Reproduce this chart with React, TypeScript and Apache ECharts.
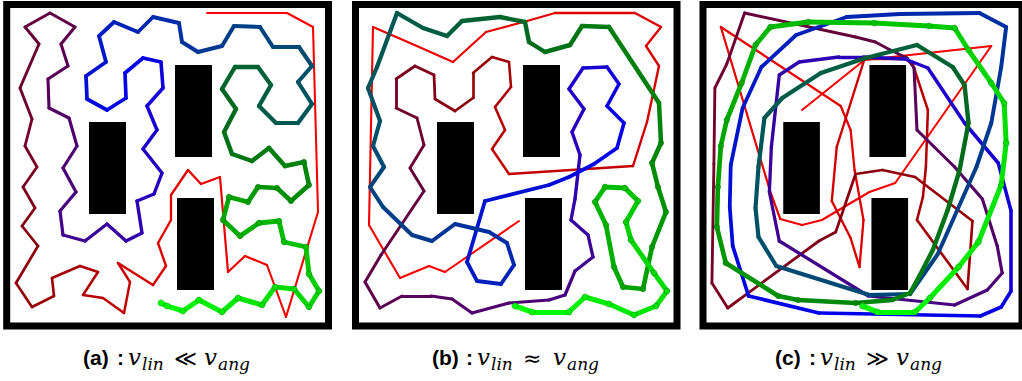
import React, { useEffect, useRef } from "react";
import * as echarts from "echarts";

type Pt = [number, number];

// Trajectories (page pixel coordinates), in time order
const pathA: Pt[] = [[207,13],[287,13],[313,27],[318,212],[286,317],[267,265],[245,256],[228,272],[220,177],[201,184],[188,170],[171,195],[171,220],[158,243],[166,266],[153,285],[118,263],[130,282],[124,313],[103,298],[83,295],[98,272],[80,266],[52,278],[54,296],[32,307],[16,283],[38,246],[22,226],[35,208],[23,187],[37,167],[25,146],[32,119],[20,88],[39,44],[25,27],[50,13],[75,27],[61,44],[68,66],[48,79],[49,108],[69,118],[77,146],[63,168],[76,192],[60,211],[63,235],[85,241],[107,224],[126,241],[142,233],[137,201],[154,194],[162,173],[143,149],[157,130],[147,106],[163,88],[161,62],[143,58],[125,73],[126,98],[107,110],[87,99],[86,76],[106,62],[99,36],[114,22],[138,32],[153,17],[179,23],[182,42],[198,52],[222,46],[234,26],[260,27],[273,47],[299,47],[312,66],[298,82],[312,104],[298,123],[276,123],[259,106],[271,85],[258,67],[235,67],[222,89],[236,109],[224,132],[232,154],[252,161],[269,148],[285,166],[304,162],[309,185],[291,201],[277,188],[258,187],[248,202],[229,197],[223,220],[240,236],[259,223],[279,221],[284,242],[306,247],[309,274],[319,291],[309,307],[294,289],[275,287],[262,305],[238,298],[222,312],[199,300],[183,311],[167,306],[161,303]];

const pathB: Pt[] = [[519,221],[445,272],[429,266],[400,278],[369,225],[373,27],[410,43],[453,62],[486,32],[527,21],[555,13],[635,13],[661,27],[646,46],[659,66],[647,122],[633,166],[509,174],[492,149],[505,130],[495,107],[511,87],[509,62],[492,57],[473,73],[473,98],[455,111],[435,99],[434,75],[415,66],[396,79],[396,108],[417,118],[424,145],[410,168],[424,191],[381,255],[365,282],[380,308],[402,296],[431,296],[452,299],[472,313],[509,303],[549,300],[565,295],[575,271],[593,257],[588,235],[571,220],[575,199],[580,155],[572,132],[584,109],[569,89],[583,68],[607,67],[619,84],[607,106],[624,123],[617,148],[594,164],[569,177],[549,185],[485,201],[467,262],[477,281],[501,284],[514,265],[507,243],[489,232],[455,224],[432,241],[412,235],[383,207],[370,187],[384,167],[373,146],[380,121],[368,88],[377,67],[397,13],[423,28],[447,36],[462,21],[500,17],[525,22],[529,42],[545,52],[570,45],[582,26],[609,27],[659,103],[661,143],[652,163],[658,187],[666,212],[652,247],[643,289],[623,287],[614,267],[606,225],[595,202],[605,187],[625,188],[638,201],[626,222],[631,240],[654,273],[667,291],[656,306],[634,315],[609,304],[585,297],[569,312],[532,312],[515,306]];

const pathC: Pt[] = [[803,110],[866,60],[994,46],[897,183],[871,192],[823,220],[803,225],[781,219],[771,192],[721,27],[842,106],[852,130],[856,170],[865,220],[861,267],[852,238],[833,201],[838,147],[866,59],[908,59],[915,65],[930,110],[928,167],[925,197],[919,220],[970,289],[975,221],[917,177],[884,170],[857,174],[837,232],[820,241],[728,308],[712,283],[714,164],[715,88],[727,64],[745,13],[857,37],[877,42],[892,50],[909,58],[916,68],[919,130],[957,167],[985,199],[1000,246],[1005,273],[990,290],[957,305],[870,296],[780,241],[770,192],[772,147],[780,75],[800,62],[840,57],[865,57],[907,59],[930,68],[967,123],[1001,163],[1014,211],[1014,291],[1004,307],[983,316],[820,313],[749,296],[733,246],[730,207],[731,165],[743,108],[762,67],[797,35],[848,17],[902,14],[982,13],[1009,27],[1004,67],[994,123],[979,167],[940,254],[912,294],[871,295],[777,266],[759,237],[756,208],[759,167],[765,118],[783,98],[822,73],[867,58],[919,45],[955,67],[967,85],[971,123],[962,170],[950,210],[935,250],[922,275],[912,293],[894,300],[857,303],[799,300],[779,296],[726,263],[717,227],[718,187],[721,146],[727,120],[742,83],[756,45],[771,27],[809,22],[876,23],[931,26],[957,28],[971,50],[994,83],[1007,103],[1009,143],[1004,185],[981,242],[961,267],[932,298],[917,312],[879,312],[864,306]];

// Obstacles: [x1, y1, x2, y2]
const obstaclesA: number[][] = [[89,122,126,214],[175,65,212,157],[177,198,214,290]];
const obstaclesB: number[][] = [[437,122,474,214],[523,65,560,157],[525,198,562,290]];
const obstaclesC: number[][] = [[784,122,821,214],[871,65,908,157],[873,198,910,290]];

const captionLabels = ["(a)", "(b)", "(c)"];
const captionRelations = ["\u226A", "\u2248", "\u226B"];

const COLOR_STOPS: [number, number[]][] = [
  [0, [255, 0, 0]],
  [0.12, [215, 0, 0]],
  [0.22, [140, 0, 10]],
  [0.3, [100, 0, 60]],
  [0.38, [75, 0, 120]],
  [0.45, [40, 0, 190]],
  [0.52, [0, 0, 235]],
  [0.6, [0, 45, 165]],
  [0.67, [0, 80, 105]],
  [0.75, [0, 105, 30]],
  [0.83, [0, 150, 0]],
  [0.92, [0, 210, 0]],
  [1, [0, 255, 0]],
];

function colorAt(t: number): string {
  for (let i = 0; i < COLOR_STOPS.length - 1; i++) {
    const [t0, c0] = COLOR_STOPS[i];
    const [t1, c1] = COLOR_STOPS[i + 1];
    if (t <= t1) {
      const u = (t - t0) / (t1 - t0);
      const c = c0.map((v, k) => Math.round(v + (c1[k] - v) * u));
      return `rgb(${c[0]},${c[1]},${c[2]})`;
    }
  }
  return "rgb(0,255,0)";
}

const widthAt = (t: number) => 2.0 + 3.2 * t;

const panels = [
  { path: pathA, obstacles: obstaclesA, grid: { left: 6.7, top: 4.6, width: 321.8, height: 321.4 }, capX: 83 },
  { path: pathB, obstacles: obstaclesB, grid: { left: 355.5, top: 4.6, width: 321.5, height: 321.4 }, capX: 432 },
  { path: pathC, obstacles: obstaclesC, grid: { left: 703, top: 4.6, width: 322, height: 321.4 }, capX: 775 },
];

export default function App() {
  const ref = useRef<HTMLDivElement>(null);
  useEffect(() => {
    if (!ref.current) return;
    const chart = echarts.init(ref.current, undefined, { renderer: "svg" });
    const grids: any[] = [];
    const xAxes: any[] = [];
    const yAxes: any[] = [];
    const series: any[] = [];
    const graphics: any[] = [];
    panels.forEach((p, k) => {
      const g = p.grid;
      grids.push({ ...g, show: true, borderColor: "#000", borderWidth: 7, backgroundColor: "#fff" });
      xAxes.push({ type: "value", gridIndex: k, min: g.left, max: g.left + g.width, show: false });
      yAxes.push({ type: "value", gridIndex: k, min: g.top, max: g.top + g.height, inverse: true, show: false });
      series.push({
        type: "custom",
        xAxisIndex: k,
        yAxisIndex: k,
        silent: true,
        clip: false,
        z: 1,
        data: p.obstacles,
        renderItem: (_params: any, api: any) => {
          const a = api.coord([api.value(0), api.value(1)]);
          const b = api.coord([api.value(2), api.value(3)]);
          return { type: "rect", shape: { x: a[0], y: a[1], width: b[0] - a[0], height: b[1] - a[1] }, style: { fill: "#000" } };
        },
      });
      const n = p.path.length;
      const segs = [];
      for (let i = 0; i < n - 1; i++) {
        const t = (i + 0.5) / (n - 1);
        segs.push({
          coords: [p.path[i], p.path[i + 1]],
          lineStyle: { color: colorAt(t), width: widthAt(t) },
        });
      }
      series.push({
        type: "lines",
        coordinateSystem: "cartesian2d",
        xAxisIndex: k,
        yAxisIndex: k,
        polyline: false,
        silent: true,
        large: false,
        z: 2,
        lineStyle: { cap: "round", join: "round", opacity: 1 },
        data: segs,
      });
      const markers = [];
      for (let i = 0; i < n; i++) {
        const t = i / (n - 1);
        if (t >= 0.8) {
          markers.push({
            value: p.path[i],
            symbolSize: widthAt(t) + 1.0,
            itemStyle: { color: colorAt(t), borderColor: "rgba(0,90,0,0.7)", borderWidth: 0.6 },
          });
        }
      }
      series.push({
        type: "scatter",
        xAxisIndex: k,
        yAxisIndex: k,
        symbol: "circle",
        silent: true,
        z: 3,
        data: markers,
      });
      const bx = p.capX;
      const cy = 357;
      const mathFont = (s: number) => `italic ${s}px "DejaVu Serif"`;
      graphics.push(
        { type: "text", x: bx, y: cy, style: { text: captionLabels[k], font: 'bold 21px "Liberation Sans"', fill: "#000", verticalAlign: "middle", align: "left" } },
        { type: "text", x: bx + 34, y: cy, style: { text: ":", font: 'bold 21px "Liberation Sans"', fill: "#000", verticalAlign: "middle", align: "left" } },
        { type: "text", x: bx + 45, y: cy, style: { text: "v", font: mathFont(23), fill: "#000", verticalAlign: "middle", align: "left" } },
        { type: "text", x: bx + 59, y: cy + 7, style: { text: "lin", font: mathFont(17), fill: "#000", verticalAlign: "middle", align: "left" } },
        { type: "text", x: bx + 91, y: cy + 1, style: { text: captionRelations[k], font: '22px "DejaVu Sans"', fill: "#000", verticalAlign: "middle", align: "left" } },
        { type: "text", x: bx + 121, y: cy, style: { text: "v", font: mathFont(23), fill: "#000", verticalAlign: "middle", align: "left" } },
        { type: "text", x: bx + 135, y: cy + 7, style: { text: "ang", font: mathFont(17), fill: "#000", verticalAlign: "middle", align: "left" } }
      );
    });
    chart.setOption({
      animation: false,
      backgroundColor: "#fff",
      grid: grids,
      xAxis: xAxes,
      yAxis: yAxes,
      series,
      graphic: graphics,
    });
    return () => chart.dispose();
  }, []);
  return <div ref={ref} style={{ position: "fixed", left: 0, top: 0, width: 1022, height: 381, background: "#fff" }} />;
}
